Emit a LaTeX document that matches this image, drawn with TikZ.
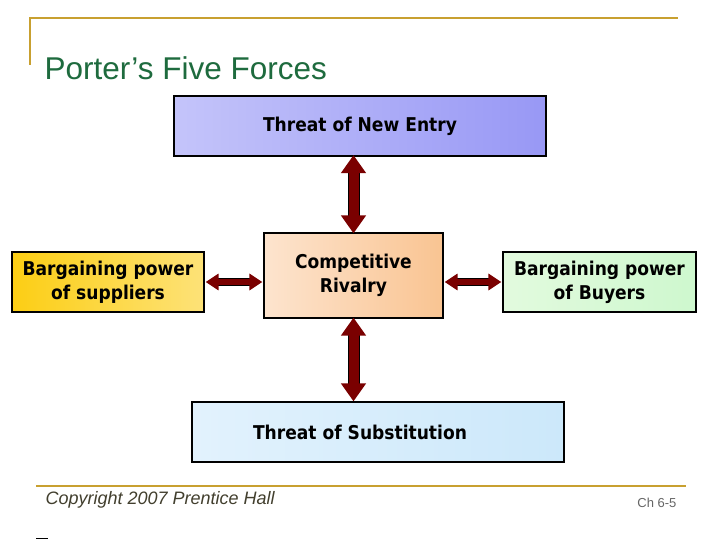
\documentclass[tikz,border=0pt]{standalone}
\usepackage{fontspec}
\setmainfont{Liberation Sans}
\newfontfamily\boxfont{DejaVu Sans Condensed}
\usetikzlibrary{arrows.meta}
\definecolor{gold}{HTML}{C8A030}
\definecolor{titlegreen}{HTML}{1E6B3E}
\definecolor{arrred}{HTML}{7A0000}
\tikzset{
  force/.style={draw=black,line width=1.2pt,inner sep=0pt,font=\boxfont\bfseries\fontsize{19}{24}\selectfont,align=center},
  vfat/.style={line width=10pt,draw=arrred,{Triangle[length=18pt,width=24pt]}-{Triangle[length=18pt,width=24pt]},
    preaction={draw=black,line width=12pt,-,shorten <=12pt,shorten >=12pt}},
  hfat/.style={line width=6pt,draw=arrred,{Triangle[length=13pt,width=16pt]}-{Triangle[length=13pt,width=16pt]},
    preaction={draw=black,line width=8pt,-,shorten <=9pt,shorten >=9pt}},
}
\begin{document}
\begin{tikzpicture}[x=1pt,y=-1pt]
\useasboundingbox (0,0) rectangle (720,540);
\fill[white] (0,0) rectangle (720,540);
\draw[gold,line width=2.5pt] (30,65) -- (30,18) -- (678,18);
\draw[gold,line width=2.5pt] (36,486) -- (686,486);
\draw[black,line width=1pt] (36,538) -- (48,538);
\node[anchor=west,text=titlegreen,font=\fontsize{31.5}{34}\selectfont] (title) at (41,68) {Porter’s Five Forces};
\node[anchor=west,text=black!70!olive,font=\itshape\fontsize{18}{20}\selectfont] (copy) at (42,500) {Copyright 2007 Prentice Hall};
\node[anchor=east,text=black!60,font=\fontsize{13}{15}\selectfont] (ch) at (680,503) {Ch 6-5};

\node[force,minimum width=372pt,minimum height=60pt,left color={rgb,255:red,196;green,196;blue,250},right color={rgb,255:red,152;green,152;blue,245}] (top) at (360,126) {Threat of New Entry};
\node[force,minimum width=179pt,minimum height=85pt,left color={rgb,255:red,253;green,228;blue,206},right color={rgb,255:red,249;green,196;blue,146}] (mid) at (353.5,275.5) {Competitive\\Rivalry};
\node[force,minimum width=192pt,minimum height=60pt,left color={rgb,255:red,252;green,206;blue,20},right color={rgb,255:red,253;green,226;blue,120}] (sup) at (108,282) {Bargaining power\\of suppliers};
\node[force,minimum width=193pt,minimum height=60pt,left color={rgb,255:red,226;green,250;blue,222},right color={rgb,255:red,206;green,248;blue,206}] (buy) at (599.5,282) {Bargaining power\\of Buyers};
\node[force,minimum width=372pt,minimum height=60pt,left color={rgb,255:red,226;green,242;blue,253},right color={rgb,255:red,204;green,232;blue,250}] (bot) at (378,432) {\hspace*{-36pt}Threat of Substitution};

\draw[vfat] ([yshift=1.5pt]top.south -| mid.north) -- ([yshift=-1pt]mid.north);
\draw[vfat] ([yshift=1pt]mid.south) -- (mid.south |- bot.north);
\draw[hfat] ([xshift=1pt]sup.east) -- ([xshift=-1pt]sup.east -| mid.west);
\draw[hfat] ([xshift=1pt]buy.west |- sup.east -| mid.east) -- ([xshift=-1pt]buy.west);
\end{tikzpicture}
\end{document}
